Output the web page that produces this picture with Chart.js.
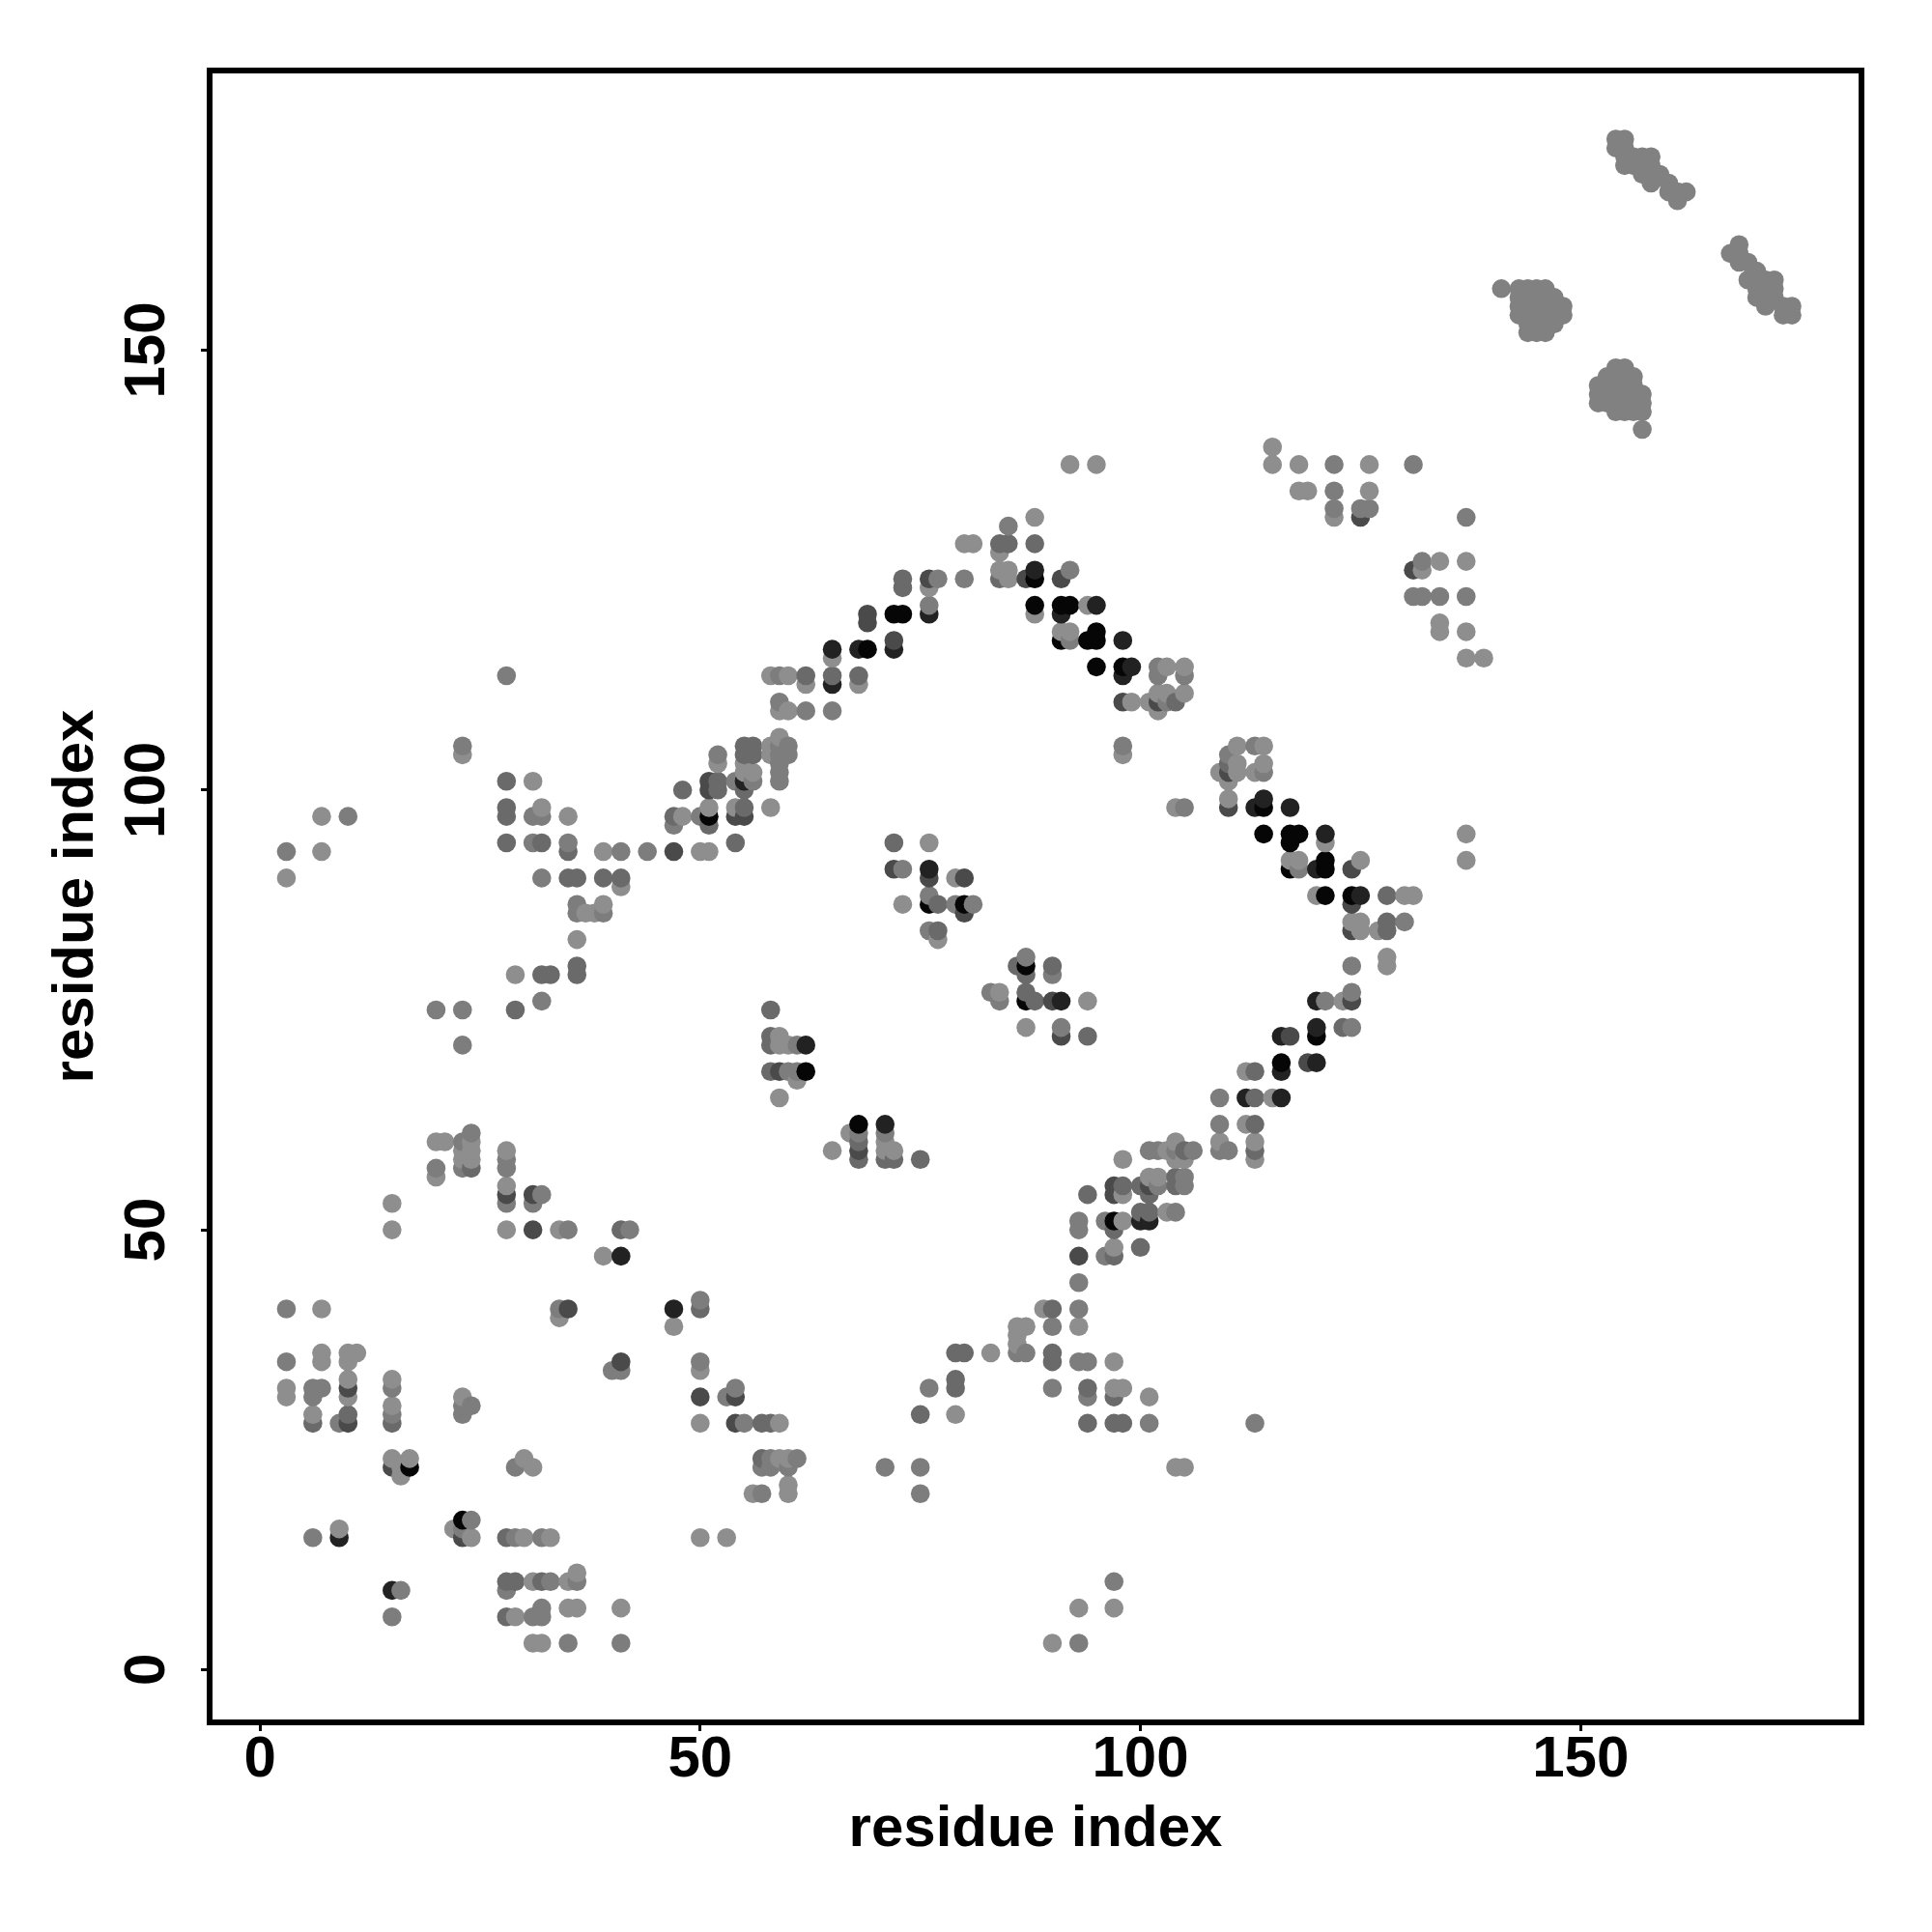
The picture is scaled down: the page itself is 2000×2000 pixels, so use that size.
<!DOCTYPE html>
<html>
<head>
<meta charset="utf-8">
<title>residue contacts</title>
<script src="https://cdn.jsdelivr.net/npm/chart.js@4/dist/chart.umd.min.js"></script>
<style>
  html, body { margin:0; padding:0; background:#fff; }
  canvas { display:block; }
</style>
</head>
<body>
<canvas id="contactMap" width="2000" height="2000"></canvas>
<script>
const tickValues = [0, 50, 100, 150];
const axisTitle = "residue index";

// contacts [i, j], one list per grey level
const palest = [[20,56],[23,58],[23,59],[24,58],[24,59],[24,60],[20,60],[21,60],[28,59],[28,55],[28,50],[34,50],[39,47],[15,53],[15,50],[7,41],[34,40],[47,39],[7,36],[10,36],[11,36],[7,35],[10,35],[50,34],[10,33],[15,33],[3,32],[3,31],[10,31],[15,30],[6,29],[23,31],[15,24],[16,23],[16,22],[17,24],[30,24],[31,23],[9,16],[22,16],[24,15],[30,15],[33,15],[50,15],[53,15],[36,11],[31,10],[35,10],[35,7],[36,7],[41,7],[29,6],[31,3],[32,3],
  [50,28],[59,28],[59,24],[60,24],[60,21],[56,20],[60,20],[83,36],[86,39],[87,39],[86,38],[86,37],[89,41],[93,39],[79,29],[97,32],[98,32],[97,35],[101,31],[93,7],[97,7],[90,3],[98,54],[98,51],[97,48],[101,56],[102,56],
  [98,58],[103,59],[104,60],[104,58],[105,58],[103,52],[109,60],[112,62],[113,60],[113,58],[115,65],[112,68],[123,76],[128,81],[128,80],[120,88],[130,88],[131,88],[124,85],[125,85],[125,84],[127,84],[94,76],[87,73],[84,77],
  [3,90],[7,97],[7,93],[23,104],[31,101],[32,98],[35,97],[39,93],[41,89],[50,93],[51,93],[37,86],[38,86],[39,87],[36,83],[29,79],[52,103],[48,97],[51,98],
  [54,98],[55,103],[55,102],[56,102],[58,98],[58,105],[58,104],[59,106],
  [62,112],[59,109],[60,109],[68,112],[58,113],[60,113],[65,115],[76,123],[80,128],[81,128],[84,127],[84,125],[85,125],[85,124],[88,131],[88,120],[94,121],[91,118],[92,118],[103,114],[105,114],[99,110],[101,110],[102,111],[102,109],[103,111],[105,111],[98,104],[104,98],[76,94],[79,90],[73,87],[77,83],
  [111,105],[114,105],[109,102],[111,103],[111,102],[113,102],[114,103],[110,101],[110,99],[121,94],[117,92],[118,92],[125,92],[137,95],[137,92],
  [115,139],[115,137],[118,137],[126,137],[118,134],[119,134],[126,134],[122,131],[132,125],[134,126],[137,126],[134,119],[134,118],[137,118],[137,115],[139,115],[92,137],[95,137],
  [59,72],[59,71],[60,71],[61,67],[59,65],[67,61],[71,60],[65,59],[71,59],[72,59],[104,23],[105,23]];

const pale = [[20,57],[23,57],[23,60],[24,61],[28,58],[28,57],[28,53],[31,53],[32,54],[35,50],[42,50],[3,41],[34,41],[50,42],[3,35],[40,34],[41,34],[50,35],[6,32],[7,32],[15,32],[6,31],[9,28],[24,30],[23,30],[23,29],[15,29],[29,23],[24,17],[23,16],[6,15],[29,15],[32,15],[33,10],[36,10],[16,9],[28,9],[32,7],[15,6],[31,6],[32,6],[35,3],[41,3],
  [53,31],[54,32],[55,28],[58,24],[61,24],[57,23],[58,23],[60,23],[57,20],[71,23],[75,23],[75,20],[86,36],[87,36],[90,39],[93,41],[76,32],[90,32],[94,31],[101,28],[97,10],[93,3],[93,35],[94,35],[93,51],[96,51],[93,50],[96,47],[93,44],[102,55],
  [101,59],[102,59],[104,59],[106,59],[105,56],[105,55],[104,52],[109,62],[109,59],[110,59],[109,65],[124,73],[121,76],[124,77],[124,80],[130,85],[87,81],[90,79],[83,77],[84,76],[91,73],
  [3,93],[10,97],[28,113],[23,105],[31,97],[31,94],[32,97],[35,94],[32,90],[41,93],[44,93],[36,87],[36,86],[39,86],[32,76],[20,75],[23,75],[23,71],[52,104],[47,96],[50,97],
  [54,101],[56,101],[59,105],[59,104],[59,103],[59,102],[59,101],[60,105],[60,104],
  [59,113],[59,110],[62,109],[65,109],[77,124],[76,121],[85,130],[92,125],[92,117],[102,114],[102,113],[105,113],[103,110],[98,105],[105,98],[73,91],[76,88],[79,87],[81,87],[76,84],[80,124],
  [113,105],[110,104],[114,102],[118,91],[122,137],[131,137],[122,134],[122,132],[125,132],[126,132],[137,131],[132,126],[131,122],[132,122],[134,122],[137,122],[60,68],[61,71],[61,68],[68,61],[71,61],[113,28]];

const middle = [[24,57],[15,28],[6,28],[10,29],[28,15],[28,10],[29,10],[32,10],[28,6],[41,50],[50,41],[57,28],[58,28],[57,24],[79,36],[80,36],[90,41],[90,36],[90,35],[79,33],[79,32],[75,29],[94,32],[97,31],[94,28],[97,28],[98,28],[94,54],[98,55],[97,50],[97,47],[100,48],[100,52],[101,52],[100,55],[101,54],
  [105,59],[104,56],[104,55],[113,62],[113,59],[113,65],[113,68],[123,73],[128,88],[128,85],[128,84],[86,80],[87,79],[90,80],[87,77],[88,76],[94,72],
  [28,101],[28,98],[28,97],[28,94],[32,94],[35,93],[35,90],[36,90],[39,90],[41,90],[36,80],[36,79],[33,79],[32,79],[29,75],[47,97],[48,100],[52,101],[52,100],[51,96],[55,98],[55,100],[55,105],[56,105],[55,104],[56,104],[54,94],
  [62,113],[65,113],[68,113],[73,124],[73,123],[84,128],[85,128],[84,124],[88,128],[104,110],[72,94],[77,87],[77,84],[110,103],
  [58,75],[58,72],[58,71],[58,68],[68,60],[68,58],[71,58],[72,58],[75,58]];

const dark = [[28,54],[31,54],[31,50],[35,41],[41,35],[50,31],[54,31],[54,28],[10,32],[10,28],[15,23],[23,15],[97,55],[97,54],[93,47],[101,55],[124,87],[124,84],[124,76],[119,69],[117,72],[90,76],[91,72],[47,93],[51,101],[51,100],[54,97],[55,97],[69,120],[69,119],[72,117],[76,124],[87,124],[91,124],[98,110],[102,110],[72,91],[76,90],[80,90],[80,86],[110,102],[110,98],[124,91],[125,131],[131,125],[59,68],[68,59]];

const darker = [[9,15],[15,9],[41,47],[47,41],[100,51],[101,51],[112,65],[116,65],[116,68],[120,69],[116,72],[120,73],[120,76],[125,88],[91,76],[65,116],[65,112],[68,116],[72,116],[76,120],[88,125],[91,120],[95,121],[98,117],[98,113],[99,114],[76,91],[113,98],[114,99],[117,98],[121,95],[120,91],[55,101],[62,71],[71,62]];

const black = [[17,23],[23,17],[97,51],[116,69],[120,72],[121,88],[124,88],[87,80],[87,76],[51,97],[69,116],[72,120],[73,120],[88,124],[88,121],[91,117],[91,121],[92,121],[94,117],[95,118],[95,117],[95,114],[98,114],[76,87],[80,87],[114,98],[114,95],[117,95],[118,95],[117,94],[117,91],[121,92],[121,91],[62,68],[68,62]];

// the four dense blobs top right, all about the same grey
const blobs = [[154,174],[155,174],[154,173],[155,173],[155,172],[155,171],[156,172],[157,172],[158,172],[156,171],[157,171],[158,171],[157,170],[158,170],[159,170],[158,169],[160,169],[160,168],[161,168],[162,168],[161,167],
  [168,162],[167,161],[168,161],[168,160],[169,160],[169,158],[170,159],[170,158],[170,157],[170,156],[171,158],[171,157],[171,156],[171,155],[172,158],[172,157],[172,156],[173,155],[173,154],[174,155],[174,154],
  [141,157],[143,157],[144,157],[145,157],[146,157],[143,156],[144,156],[145,156],[146,156],[147,156],[143,155],[144,155],[145,155],[146,155],[147,155],[148,155],[143,154],[144,154],[145,154],[146,154],[147,154],[148,154],[144,153],[145,153],[146,153],[147,153],[144,152],[145,152],[146,152],
  [154,148],[155,148],[153,147],[154,147],[155,147],[156,147],[152,146],[153,146],[154,146],[155,146],[156,146],[152,145],[153,145],[154,145],[155,145],[156,145],[157,145],[152,144],[153,144],[154,144],[155,144],[156,144],[157,144],[154,143],[155,143],[156,143],[157,143],[157,141]];

const groups = [palest, pale, middle, dark, darker, black, blobs];
const shades = ["#8e8e8e", "#7d7d7d", "#6a6a6a", "#4a4a4a", "#222222", "#060606", "#818181"];

// later points sit on top in the picture: drawn by i, then j
const points = [];
groups.forEach((list, g) => {
  list.forEach(p => points.push({ x:p[0], y:p[1], shade:shades[g] }));
});
points.sort((a, b) => a.x - b.x || a.y - b.y);

const frame = {
  id: "frame",
  afterDraw(chart) {
    const { ctx, chartArea:a } = chart;
    ctx.save();
    ctx.strokeStyle = "#000";
    ctx.lineWidth = 6;
    ctx.strokeRect(a.left, a.top, a.right - a.left, a.bottom - a.top);
    ctx.restore();
  }
};

const font = { family:"'Liberation Sans'", size:60, weight:"bold" };
const setTicks = axis => { axis.ticks = tickValues.map(value => ({ value })); };
const gridOpts = { drawOnChartArea:false, drawTicks:true, tickLength:9, tickWidth:3, tickColor:"#000" };

new Chart(document.getElementById("contactMap"), {
  type: "scatter",
  data: {
    datasets: [{
      data: points,
      pointRadius: 9.8,
      pointBorderWidth: 0,
      pointBackgroundColor: points.map(p => p.shade)
    }]
  },
  plugins: [frame],
  options: {
    responsive: false,
    animation: false,
    layout: { padding:{ top:73, right:73, left:0, bottom:0 } },
    plugins: { legend:{ display:false }, tooltip:{ enabled:false } },
    scales: {
      x: {
        type: "linear",
        min: -5.72,
        max: 181.9,
        afterBuildTicks: setTicks,
        afterFit(axis) { axis.height = 217; },
        border: { display:false },
        grid: gridOpts,
        ticks: { font, color:"#000", padding:-6, maxRotation:0, autoSkip:false },
        title: { display:true, text:axisTitle, font, color:"#000", padding:{ top:0, bottom:70 } }
      },
      y: {
        type: "linear",
        min: -6.0,
        max: 181.8,
        afterBuildTicks: setTicks,
        afterFit(axis) { axis.width = 217; },
        border: { display:false },
        grid: gridOpts,
        ticks: { font, color:"#000", padding:4, minRotation:90, maxRotation:90, crossAlign:"center", autoSkip:false },
        title: { display:true, text:axisTitle, font, color:"#000", padding:{ top:43, bottom:0 } }
      }
    }
  }
});
</script>
</body>
</html>
